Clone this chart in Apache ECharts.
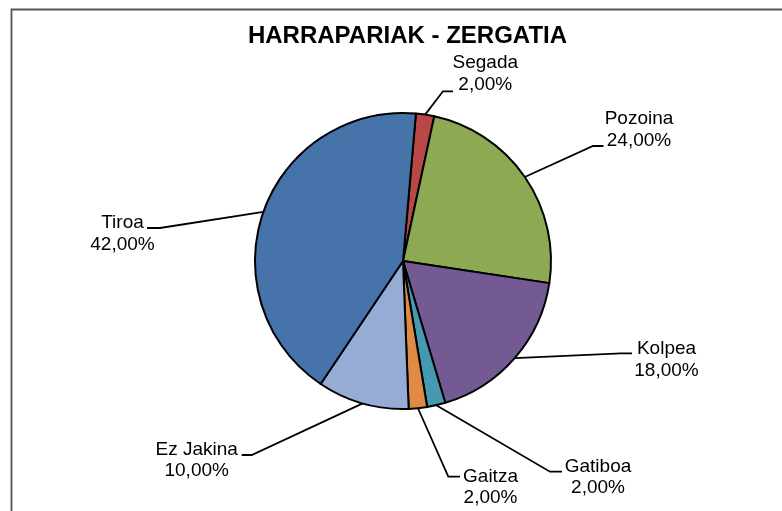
<!DOCTYPE html>
<html>
<head>
<meta charset="utf-8">
<script src="https://cdn.jsdelivr.net/npm/echarts@6/dist/echarts.min.js"></script>
<style>
  html, body { margin: 0; padding: 0; background: #fff; }
  #chart { width: 782px; height: 511px; }
</style>
</head>
<body>
<div id="chart"></div>
<script>
// ---- data ----
var categories = ['Segada', 'Pozoina', 'Kolpea', 'Gatiboa', 'Gaitza', 'Ez Jakina', 'Tiroa'];
var values = [2, 24, 18, 2, 2, 10, 42];
var colors = ['#B84745', '#8DA954', '#735A92', '#4699B0', '#E08B45', '#97ACD4', '#4674AA'];
var titleText = 'HARRAPARIAK - ZERGATIA';

// ---- label placement (text centre, leader elbow, leader end) ----
var labelPos = [
  { c: [485.3, 74.0], elbow: [443, 91.3], end: [453, 91.3] },
  { c: [639.0, 130.0], elbow: [593, 146], end: [603.5, 146] },
  { c: [666.5, 359.6], elbow: [621, 353.3], end: [632, 353.3] },
  { c: [598.0, 477.2], elbow: [550, 471.7], end: [562, 471.7] },
  { c: [490.5, 487.4], elbow: [448.3, 476.7], end: [460, 476.7] },
  { c: [196.7, 460.3], elbow: [251.7, 455], end: [241.7, 455] },
  { c: [122.5, 233.7], elbow: [160, 228], end: [147, 228] }
];

var pieData = categories.map(function (name, i) {
  return { name: name, value: values[i], itemStyle: { color: colors[i] } };
});

var chart = echarts.init(document.getElementById('chart'), null, { renderer: 'canvas' });
chart.setOption({
  backgroundColor: '#ffffff',
  animation: false,
  title: {
    text: titleText,
    left: 407.5,
    textAlign: 'center',
    top: 24.5,
    padding: 0,
    textStyle: {
      fontFamily: 'Liberation Sans, Arial, sans-serif',
      fontSize: 24,
      fontWeight: 'bold',
      color: '#000000'
    }
  },
  graphic: [{
    type: 'rect',
    silent: true,
    shape: { x: 11.5, y: 9.5, width: 900, height: 700 },
    style: { fill: 'none', stroke: '#555555', lineWidth: 1.8 }
  }],
  series: [{
    type: 'pie',
    center: [403, 261],
    radius: 148,
    startAngle: 85,
    clockwise: true,
    avoidLabelOverlap: false,
    data: pieData,
    itemStyle: { borderColor: '#000000', borderWidth: 2 },
    label: {
      show: true,
      position: 'outside',
      fontFamily: 'Liberation Sans, Arial, sans-serif',
      fontSize: 19,
      lineHeight: 21.5,
      color: '#000000',
      align: 'center',
      formatter: function (p) {
        return p.name + '\n' + p.percent.toFixed(2).replace('.', ',') + '%';
      }
    },
    labelLine: {
      show: true,
      length: 20,
      length2: 10,
      lineStyle: { color: '#000000', width: 1.8 }
    },
    labelLayout: function (params) {
      var lp = labelPos[params.dataIndex];
      var anchor = params.labelLinePoints ? params.labelLinePoints[0] : lp.elbow;
      return {
        x: lp.c[0],
        y: lp.c[1],
        align: 'center',
        verticalAlign: 'middle',
        labelLinePoints: [anchor, lp.elbow, lp.end]
      };
    }
  }]
});
</script>
</body>
</html>
